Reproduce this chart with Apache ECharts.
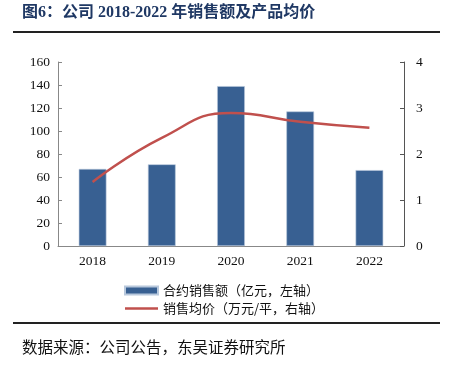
<!DOCTYPE html>
<html>
<head>
<meta charset="utf-8">
<script src="https://cdn.jsdelivr.net/npm/echarts@6/dist/echarts.min.js"></script>
<style>
html,body{margin:0;padding:0;background:#fff;}
#main{width:450px;height:365px;}
</style>
</head>
<body>
<div id="main"></div>
<script>
var years = ['2018', '2019', '2020', '2021', '2022'];
var salesAmount = [67, 71, 139, 117, 66]; // 亿元
var avgPrice = [1.39, 2.35, 2.89, 2.7, 2.57]; // 万元/平

var serif = '"Liberation Serif", "Noto Sans CJK SC", serif';
var cjk = '"Noto Sans CJK SC", sans-serif';

var myChart = echarts.init(document.getElementById('main'));
var option = {
	animation: false,
	backgroundColor: '#fff',
	graphic: [
		{ type: 'text', left: 22, top: 5,
			style: { text: '图6：公司 2018-2022 年销售额及产品均价', font: 'bold 16px ' + serif, fill: '#1f3864' } },
		{ type: 'rect', shape: { x: 13, y: 31, width: 427, height: 2 }, style: { fill: '#222' } },
		{ type: 'rect', shape: { x: 13, y: 322, width: 427, height: 2 }, style: { fill: '#222' } },
		{ type: 'text', left: 22, top: 339,
			style: { text: '数据来源：公司公告，东吴证券研究所', font: '15.5px ' + cjk, fill: '#111' } }
	],
	grid: { left: 58, right: 46, top: 62, bottom: 119 },
	legend: {
		orient: 'vertical',
		left: 119, top: 279,
		itemWidth: 33, itemHeight: 8, itemGap: 5,
		textStyle: { fontFamily: cjk, fontSize: 13, color: '#111' },
		data: [
			{ name: '合约销售额（亿元，左轴）', icon: 'rect' },
			{ name: '销售均价（万元/平，右轴）', icon: 'path://M0,0 L34,0 L34,2.5 L0,2.5 Z' }
		]
	},
	xAxis: {
		type: 'category',
		data: years,
		axisLine: { lineStyle: { color: '#888' } },
		axisTick: { inside: true, length: 4, lineStyle: { color: '#aaa' } },
		axisLabel: { fontFamily: serif, fontSize: 13.5, color: '#111', margin: 9 }
	},
	yAxis: [
		{
			type: 'value', min: 0, max: 160, interval: 20,
			splitLine: { show: false },
			axisLine: { show: true, lineStyle: { color: '#888' } },
			axisTick: { show: true, inside: true, length: 4, lineStyle: { color: '#888' } },
			axisLabel: { fontFamily: serif, fontSize: 13.5, color: '#111', margin: 8 }
		},
		{
			type: 'value', min: 0, max: 4, interval: 1,
			splitLine: { show: false },
			axisLine: { show: true, lineStyle: { color: '#555' } },
			axisTick: { show: true, inside: true, length: 4, lineStyle: { color: '#555' } },
			axisLabel: { fontFamily: serif, fontSize: 13.5, color: '#111', margin: 12 }
		}
	],
	series: [
		{
			name: '合约销售额（亿元，左轴）',
			type: 'bar',
			data: salesAmount,
			barWidth: '40%',
			itemStyle: { color: '#386092', borderColor: '#b8c8dc', borderWidth: 0.6 }
		},
		{
			name: '销售均价（万元/平，右轴）',
			type: 'line',
			yAxisIndex: 1,
			data: avgPrice,
			smooth: true,
			showSymbol: false,
			symbol: 'none',
			lineStyle: { color: '#c0504d', width: 2.5 },
			itemStyle: { color: '#c0504d' }
		}
	]
};
myChart.setOption(option, true);
</script>
</body>
</html>
